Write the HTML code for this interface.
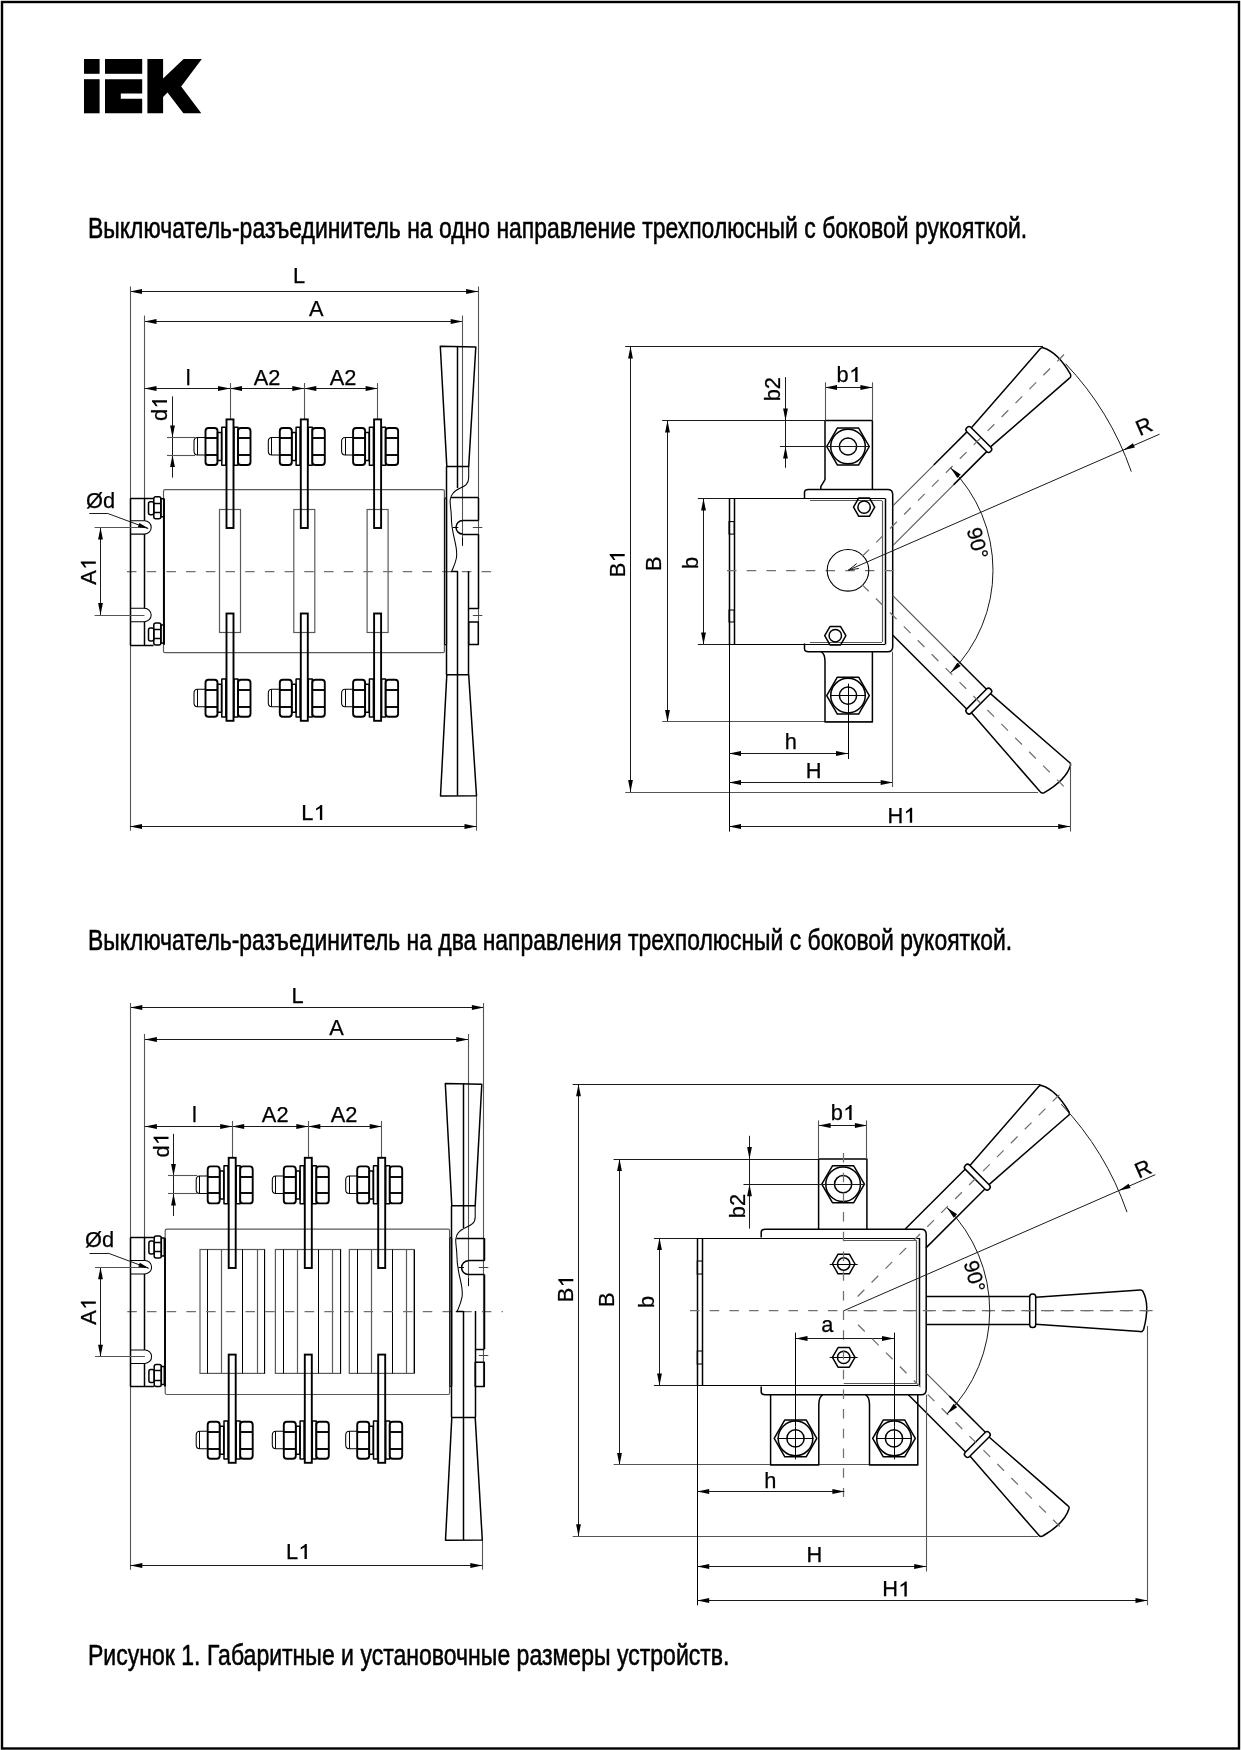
<!DOCTYPE html>
<html><head><meta charset="utf-8"><title>IEK</title>
<style>
html,body{margin:0;padding:0;background:#fff;}
svg{display:block;filter:grayscale(100%);}
.t{font-family:"Liberation Sans",sans-serif;fill:#000;stroke:#000;stroke-width:0.25;}
.tt{font-family:"Liberation Sans",sans-serif;fill:#000;stroke:#000;stroke-width:0.55;}
.d{stroke:#1a1a1a;stroke-width:1;fill:none;}
.e{stroke:#555;stroke-width:1.1;fill:none;}
.cl{stroke:#707070;stroke-width:1.25;stroke-dasharray:9.5 10.2;fill:none;}
.p,.pm{stroke:#000;stroke-width:1.5;fill:none;stroke-linejoin:round;}
.pb{stroke:#000;stroke-width:1.9;fill:none;}
.pt{stroke:#000;stroke-width:1.05;fill:none;}
.ptg{stroke:#444;stroke-width:1.05;fill:none;}
.bo{stroke:#5a5a5a;stroke-width:1.2;fill:none;}
.ar{fill:#000;stroke:none;}
</style></head>
<body><svg width="1241" height="1750" viewBox="0 0 1241 1750">
<rect width="1241" height="1750" fill="#fff"/>
<rect x="2" y="2" width="1237" height="1746.5" fill="none" stroke="#000" stroke-width="2.4"/>
<g fill="#000"><rect x="84" y="59" width="15.6" height="14.8"/><rect x="84" y="79.2" width="15.6" height="34.1"/><rect x="105" y="59" width="37.2" height="14.8"/><path d="M105,79.2 H142.2 V93.4 H120.8 V98.8 H142.2 V113.3 H105 Z"/><path d="M147.4,59 H163.1 V78.5 L183.6,59 H201.8 L181.2,86.5 L201.3,113.3 H183.4 L167.5,92.5 L163.1,97 V113.3 H147.4 Z"/></g>
<text class="tt" x="88" y="238.3" font-size="29.3" textLength="939.2" lengthAdjust="spacingAndGlyphs">Выключатель-разъединитель на одно направление трехполюсный с боковой рукояткой.</text>
<text class="tt" x="88" y="949.8" font-size="29.3" textLength="924.2" lengthAdjust="spacingAndGlyphs">Выключатель-разъединитель на два направления трехполюсный с боковой рукояткой.</text>
<text class="tt" x="88" y="1665.2" font-size="29.3" textLength="641.5" lengthAdjust="spacingAndGlyphs">Рисунок 1. Габаритные и установочные размеры устройств.</text>
<line class="d" x1="130" y1="291.5" x2="478.1" y2="291.5"/>
<path class="ar" d="M130,291.5L142,289.1L142,293.9Z"/>
<path class="ar" d="M478.1,291.5L466.1,293.9L466.1,289.1Z"/>
<text class="t" x="299" y="282.6" font-size="21.8" text-anchor="middle">L</text>
<line class="e" x1="130.5" y1="286.4" x2="130.5" y2="830.7"/>
<line class="e" x1="478.5" y1="286.4" x2="478.5" y2="645"/>
<line class="e" x1="476.5" y1="795.7" x2="476.5" y2="830.7"/>
<line class="d" x1="130" y1="826.5" x2="476.5" y2="826.5"/>
<path class="ar" d="M130,826.5L142,824.1L142,828.9Z"/>
<path class="ar" d="M476.5,826.5L464.5,828.9L464.5,824.1Z"/>
<g transform="translate(313.4 819.9)"><text class="t" x="-12.12" y="0" font-size="21.8" text-anchor="start">L</text><path d="M6.5,0 L8.85,0 L8.85,-15 L7.2,-15 L6.1,-13.6 L2.7,-11.3 L2.7,-9.3 L6.5,-11.6Z" fill="#000"/></g>
<line class="d" x1="144.5" y1="321.5" x2="462.7" y2="321.5"/>
<path class="ar" d="M144.5,321.5L156.5,319.1L156.5,323.9Z"/>
<path class="ar" d="M462.7,321.5L450.7,323.9L450.7,319.1Z"/>
<text class="t" x="316.2" y="316" font-size="21.8" text-anchor="middle">A</text>
<line class="e" x1="144.5" y1="315.5" x2="144.5" y2="498.3"/>
<line class="e" x1="462.5" y1="315.5" x2="462.5" y2="540"/>
<line class="d" x1="144.5" y1="388.5" x2="377.6" y2="388.5"/>
<path class="ar" d="M144.5,388.5L156.5,386.1L156.5,390.9Z"/>
<path class="ar" d="M230,388.5L218,390.9L218,386.1Z"/>
<path class="ar" d="M230,388.5L242,386.1L242,390.9Z"/>
<path class="ar" d="M304.3,388.5L292.3,390.9L292.3,386.1Z"/>
<path class="ar" d="M304.3,388.5L316.3,386.1L316.3,390.9Z"/>
<path class="ar" d="M377.6,388.5L365.6,390.9L365.6,386.1Z"/>
<line class="e" x1="230.5" y1="383" x2="230.5" y2="419.4"/>
<line class="e" x1="304.5" y1="383" x2="304.5" y2="419.4"/>
<line class="e" x1="377.5" y1="383" x2="377.5" y2="419.4"/>
<text class="t" x="188.2" y="384.5" font-size="21.8" text-anchor="middle">l</text>
<text class="t" x="267" y="384.5" font-size="21.8" text-anchor="middle">A2</text>
<text class="t" x="343" y="384.5" font-size="21.8" text-anchor="middle">A2</text>
<line class="d" x1="172.5" y1="396.4" x2="172.5" y2="477.6"/>
<path class="ar" d="M172.5,437.5L170.1,425.5L174.9,425.5Z"/>
<path class="ar" d="M172.5,455L174.9,467L170.1,467Z"/>
<line class="e" x1="167" y1="437.5" x2="195" y2="437.5"/>
<line class="e" x1="167" y1="455.5" x2="195" y2="455.5"/>
<g transform="translate(167 409) rotate(-90)"><text class="t" x="-12.12" y="0" font-size="21.8" text-anchor="start">d</text><path d="M6.5,0 L8.85,0 L8.85,-15 L7.2,-15 L6.1,-13.6 L2.7,-11.3 L2.7,-9.3 L6.5,-11.6Z" fill="#000"/></g>
<rect class="pb" x="205.5" y="428" width="12" height="37" rx="3"/>
<line class="pb" x1="205.5" y1="438" x2="217.5" y2="438"/>
<line class="pb" x1="205.5" y1="455" x2="217.5" y2="455"/>
<path class="pt" d="M205.5,437.5 H197.5 Q194,437.5 194,441.5 V451 Q194,455 197.5,455 H205.5"/>
<line class="pt" x1="197.5" y1="437.5" x2="197.5" y2="455"/>
<rect class="pm" x="217.5" y="432.5" width="4" height="28"/>
<rect class="pm" x="221.8" y="427.3" width="4" height="38"/>
<rect class="pm" x="234" y="427.3" width="4" height="38"/>
<rect class="pb" x="238" y="428" width="12.5" height="37" rx="3"/>
<line class="pb" x1="238" y1="438" x2="250.5" y2="438"/>
<line class="pb" x1="238" y1="455" x2="250.5" y2="455"/>
<rect class="pb" x="205.5" y="679.8" width="12" height="37" rx="3"/>
<line class="pb" x1="205.5" y1="690" x2="217.5" y2="690"/>
<line class="pb" x1="205.5" y1="707" x2="217.5" y2="707"/>
<path class="pt" d="M205.5,689.3 H197.5 Q194,689.3 194,693.3 V702.8 Q194,706.8 197.5,706.8 H205.5"/>
<line class="pt" x1="197.5" y1="689.3" x2="197.5" y2="706.8"/>
<rect class="pm" x="217.5" y="684.3" width="4" height="28"/>
<rect class="pm" x="221.8" y="679.1" width="4" height="38"/>
<rect class="pm" x="234" y="679.1" width="4" height="38"/>
<rect class="pb" x="238" y="679.8" width="12.5" height="37" rx="3"/>
<line class="pb" x1="238" y1="690" x2="250.5" y2="690"/>
<line class="pb" x1="238" y1="707" x2="250.5" y2="707"/>
<rect class="pb" x="279.8" y="428" width="12" height="37" rx="3"/>
<line class="pb" x1="279.8" y1="438" x2="291.8" y2="438"/>
<line class="pb" x1="279.8" y1="455" x2="291.8" y2="455"/>
<path class="pt" d="M279.8,437.5 H271.8 Q268.3,437.5 268.3,441.5 V451 Q268.3,455 271.8,455 H279.8"/>
<line class="pt" x1="271.5" y1="437.5" x2="271.5" y2="455"/>
<rect class="pm" x="291.8" y="432.5" width="4" height="28"/>
<rect class="pm" x="296.1" y="427.3" width="4" height="38"/>
<rect class="pm" x="308.3" y="427.3" width="4" height="38"/>
<rect class="pb" x="312.3" y="428" width="12.5" height="37" rx="3"/>
<line class="pb" x1="312.3" y1="438" x2="324.8" y2="438"/>
<line class="pb" x1="312.3" y1="455" x2="324.8" y2="455"/>
<rect class="pb" x="279.8" y="679.8" width="12" height="37" rx="3"/>
<line class="pb" x1="279.8" y1="690" x2="291.8" y2="690"/>
<line class="pb" x1="279.8" y1="707" x2="291.8" y2="707"/>
<path class="pt" d="M279.8,689.3 H271.8 Q268.3,689.3 268.3,693.3 V702.8 Q268.3,706.8 271.8,706.8 H279.8"/>
<line class="pt" x1="271.5" y1="689.3" x2="271.5" y2="706.8"/>
<rect class="pm" x="291.8" y="684.3" width="4" height="28"/>
<rect class="pm" x="296.1" y="679.1" width="4" height="38"/>
<rect class="pm" x="308.3" y="679.1" width="4" height="38"/>
<rect class="pb" x="312.3" y="679.8" width="12.5" height="37" rx="3"/>
<line class="pb" x1="312.3" y1="690" x2="324.8" y2="690"/>
<line class="pb" x1="312.3" y1="707" x2="324.8" y2="707"/>
<rect class="pb" x="353.1" y="428" width="12" height="37" rx="3"/>
<line class="pb" x1="353.1" y1="438" x2="365.1" y2="438"/>
<line class="pb" x1="353.1" y1="455" x2="365.1" y2="455"/>
<path class="pt" d="M353.1,437.5 H345.1 Q341.6,437.5 341.6,441.5 V451 Q341.6,455 345.1,455 H353.1"/>
<line class="pt" x1="345.5" y1="437.5" x2="345.5" y2="455"/>
<rect class="pm" x="365.1" y="432.5" width="4" height="28"/>
<rect class="pm" x="369.4" y="427.3" width="4" height="38"/>
<rect class="pm" x="381.6" y="427.3" width="4" height="38"/>
<rect class="pb" x="385.6" y="428" width="12.5" height="37" rx="3"/>
<line class="pb" x1="385.6" y1="438" x2="398.1" y2="438"/>
<line class="pb" x1="385.6" y1="455" x2="398.1" y2="455"/>
<rect class="pb" x="353.1" y="679.8" width="12" height="37" rx="3"/>
<line class="pb" x1="353.1" y1="690" x2="365.1" y2="690"/>
<line class="pb" x1="353.1" y1="707" x2="365.1" y2="707"/>
<path class="pt" d="M353.1,689.3 H345.1 Q341.6,689.3 341.6,693.3 V702.8 Q341.6,706.8 345.1,706.8 H353.1"/>
<line class="pt" x1="345.5" y1="689.3" x2="345.5" y2="706.8"/>
<rect class="pm" x="365.1" y="684.3" width="4" height="28"/>
<rect class="pm" x="369.4" y="679.1" width="4" height="38"/>
<rect class="pm" x="381.6" y="679.1" width="4" height="38"/>
<rect class="pb" x="385.6" y="679.8" width="12.5" height="37" rx="3"/>
<line class="pb" x1="385.6" y1="690" x2="398.1" y2="690"/>
<line class="pb" x1="385.6" y1="707" x2="398.1" y2="707"/>
<rect class="bo" x="163.5" y="489.7" width="280.9" height="163" rx="1.5"/>
<line class="pb" x1="164" y1="498.7" x2="164" y2="644.7"/>
<rect class="bo" x="219.5" y="509.5" width="21" height="123"/>
<rect class="bo" x="293.8" y="509.5" width="21" height="123"/>
<rect class="bo" x="367.1" y="509.5" width="21" height="123"/>
<rect class="pb" x="226.5" y="419.4" width="7" height="108.6"/>
<rect class="pb" x="226.5" y="613.5" width="7" height="107.3"/>
<rect class="pb" x="300.8" y="419.4" width="7" height="108.6"/>
<rect class="pb" x="300.8" y="613.5" width="7" height="107.3"/>
<rect class="pb" x="374.1" y="419.4" width="7" height="108.6"/>
<rect class="pb" x="374.1" y="613.5" width="7" height="107.3"/>
<line class="cl" x1="127" y1="571.5" x2="497.1" y2="571.5"/>
<line class="pm" x1="130" y1="498.5" x2="153.5" y2="498.5"/>
<line class="pm" x1="130" y1="645.5" x2="153.5" y2="645.5"/>
<line class="pm" x1="130.5" y1="498.3" x2="130.5" y2="645"/>
<line class="pm" x1="144.5" y1="498.3" x2="144.5" y2="520.7"/>
<line class="pm" x1="144.5" y1="534.1" x2="144.5" y2="608.3"/>
<line class="pm" x1="144.5" y1="621.7" x2="144.5" y2="645"/>
<path class="pt" d="M130,520.7 H144.5 A6.7,6.7 0 0 1 144.5,534.1 H130"/>
<path class="pt" d="M130,608.3 H144.5 A6.7,6.7 0 0 1 144.5,621.7 H130"/>
<rect class="pm" x="148.5" y="501.8" width="5.3" height="13" rx="2"/>
<rect class="pm" x="153.8" y="496.8" width="7.1" height="22" rx="2"/>
<line class="pm" x1="153.8" y1="503.5" x2="160.9" y2="503.5"/>
<line class="pm" x1="153.8" y1="512.5" x2="160.9" y2="512.5"/>
<rect class="pm" x="160.9" y="498.8" width="3" height="18"/>
<rect class="pm" x="148.5" y="628" width="5.3" height="13" rx="2"/>
<rect class="pm" x="153.8" y="623" width="7.1" height="22" rx="2"/>
<line class="pm" x1="153.8" y1="629.5" x2="160.9" y2="629.5"/>
<line class="pm" x1="153.8" y1="638.5" x2="160.9" y2="638.5"/>
<rect class="pm" x="160.9" y="625" width="3" height="18"/>
<line class="d" x1="100.5" y1="527.4" x2="100.5" y2="615"/>
<path class="ar" d="M100.5,527.4L102.9,539.4L98.1,539.4Z"/>
<path class="ar" d="M100.5,615L98.1,603L102.9,603Z"/>
<line class="e" x1="94.6" y1="527.5" x2="144.5" y2="527.5"/>
<line class="e" x1="94.6" y1="615.5" x2="144.5" y2="615.5"/>
<g transform="translate(95.8 571.5) rotate(-90)"><text class="t" x="-13.33" y="0" font-size="21.8" text-anchor="start">A</text><path d="M7.71,0 L10.06,0 L10.06,-15 L8.41,-15 L7.31,-13.6 L3.91,-11.3 L3.91,-9.3 L7.71,-11.6Z" fill="#000"/></g>
<text class="t" x="86" y="507.9" font-size="21.8" text-anchor="start">Ød</text>
<line class="d" x1="89.3" y1="513.5" x2="107.8" y2="513.5"/>
<line class="d" x1="107.8" y1="513.5" x2="148" y2="528.4"/>
<path class="ar" d="M149,528.7L137.91,527.04L139.4,522.9Z"/>
<path class="pm" d="M440.3,346.2 L475.8,347 L468.7,466.5 L446.8,466.5 Z"/>
<line class="pm" x1="457.5" y1="346.2" x2="457.5" y2="488"/>
<line class="pm" x1="446.5" y1="466.5" x2="446.5" y2="674.8"/>
<path class="pt" d="M468.7,466.5 V477.5 C468.7,488.5 457.8,486.5 452.8,493.5 C447.8,499.5 451.3,506.5 451.3,516.5 C451.3,536.5 458.8,546.5 456.3,558.5 C454.8,565.5 452.8,568.2 451.8,571.2"/>
<line class="pm" x1="450.8" y1="497.5" x2="478.3" y2="497.5"/>
<line class="pm" x1="478.5" y1="497.8" x2="478.5" y2="520.5"/>
<line class="pm" x1="478.3" y1="520.5" x2="462.8" y2="520.5"/>
<path class="pm" d="M462.8,520.5 A6.7,6.7 0 0 0 462.8,534.1"/>
<line class="pm" x1="462.8" y1="534.5" x2="478.3" y2="534.5"/>
<line class="pm" x1="478.5" y1="534.1" x2="478.5" y2="608.9"/>
<line class="pm" x1="478.3" y1="608.5" x2="468.7" y2="608.5"/>
<line class="pt" x1="452.8" y1="527.5" x2="458.3" y2="527.5"/>
<line class="ptg" x1="472.8" y1="527.5" x2="482.3" y2="527.5"/>
<line class="ptg" x1="472.8" y1="615.5" x2="482.3" y2="615.5"/>
<rect class="pm" x="468.7" y="621.9" width="9.6" height="22.7"/>
<line class="pt" x1="462.5" y1="537.8" x2="462.5" y2="545.8"/>
<line class="pm" x1="457.5" y1="571.2" x2="457.5" y2="674.8"/>
<line class="pm" x1="468.5" y1="571.2" x2="468.5" y2="674.8"/>
<line class="pm" x1="450.8" y1="571.5" x2="457.8" y2="571.5"/>
<rect class="pt" x="444.7" y="498" width="1.9" height="146.7" rx="1"/>
<path class="pm" d="M446.8,674.8 L468.7,674.8 L476.5,795.7 L440.5,796 Z"/>
<line class="pm" x1="457.5" y1="674.8" x2="457.5" y2="795.7"/>
<line class="d" x1="130.3" y1="1007.5" x2="483.9" y2="1007.5"/>
<path class="ar" d="M130.3,1007.5L142.3,1005.1L142.3,1009.9Z"/>
<path class="ar" d="M483.9,1007.5L471.9,1009.9L471.9,1005.1Z"/>
<text class="t" x="297.5" y="1003.4" font-size="21.8" text-anchor="middle">L</text>
<line class="e" x1="130.5" y1="1002.9" x2="130.5" y2="1569.7"/>
<line class="e" x1="483.5" y1="1002.9" x2="483.5" y2="1386.4"/>
<line class="e" x1="482.5" y1="1540" x2="482.5" y2="1569.7"/>
<line class="d" x1="130.3" y1="1565.5" x2="482.3" y2="1565.5"/>
<path class="ar" d="M130.3,1565.5L142.3,1563.1L142.3,1567.9Z"/>
<path class="ar" d="M482.3,1565.5L470.3,1567.9L470.3,1563.1Z"/>
<g transform="translate(298 1558.9)"><text class="t" x="-12.12" y="0" font-size="21.8" text-anchor="start">L</text><path d="M6.5,0 L8.85,0 L8.85,-15 L7.2,-15 L6.1,-13.6 L2.7,-11.3 L2.7,-9.3 L6.5,-11.6Z" fill="#000"/></g>
<line class="d" x1="144.9" y1="1039.5" x2="468.3" y2="1039.5"/>
<path class="ar" d="M144.9,1039.5L156.9,1037.1L156.9,1041.9Z"/>
<path class="ar" d="M468.3,1039.5L456.3,1041.9L456.3,1037.1Z"/>
<text class="t" x="336.6" y="1034.5" font-size="21.8" text-anchor="middle">A</text>
<line class="e" x1="144.5" y1="1034" x2="144.5" y2="1237.6"/>
<line class="e" x1="468.5" y1="1034" x2="468.5" y2="1280"/>
<line class="d" x1="144.9" y1="1126.5" x2="381.7" y2="1126.5"/>
<path class="ar" d="M144.9,1126.5L156.9,1124.1L156.9,1128.9Z"/>
<path class="ar" d="M232.2,1126.5L220.2,1128.9L220.2,1124.1Z"/>
<path class="ar" d="M232.2,1126.5L244.2,1124.1L244.2,1128.9Z"/>
<path class="ar" d="M308.3,1126.5L296.3,1128.9L296.3,1124.1Z"/>
<path class="ar" d="M308.3,1126.5L320.3,1124.1L320.3,1128.9Z"/>
<path class="ar" d="M381.7,1126.5L369.7,1128.9L369.7,1124.1Z"/>
<line class="e" x1="232.5" y1="1120.9" x2="232.5" y2="1157.8"/>
<line class="e" x1="308.5" y1="1120.9" x2="308.5" y2="1157.8"/>
<line class="e" x1="381.5" y1="1120.9" x2="381.5" y2="1157.8"/>
<text class="t" x="194.5" y="1122.4" font-size="21.8" text-anchor="middle">l</text>
<text class="t" x="275.2" y="1122.4" font-size="21.8" text-anchor="middle">A2</text>
<text class="t" x="344" y="1122.4" font-size="21.8" text-anchor="middle">A2</text>
<line class="d" x1="173.5" y1="1133.8" x2="173.5" y2="1216"/>
<path class="ar" d="M173.5,1175.9L171.1,1163.9L175.9,1163.9Z"/>
<path class="ar" d="M173.5,1193.4L175.9,1205.4L171.1,1205.4Z"/>
<line class="e" x1="168" y1="1175.5" x2="197.2" y2="1175.5"/>
<line class="e" x1="168" y1="1193.5" x2="197.2" y2="1193.5"/>
<g transform="translate(168.5 1145.5) rotate(-90)"><text class="t" x="-12.12" y="0" font-size="21.8" text-anchor="start">d</text><path d="M6.5,0 L8.85,0 L8.85,-15 L7.2,-15 L6.1,-13.6 L2.7,-11.3 L2.7,-9.3 L6.5,-11.6Z" fill="#000"/></g>
<rect class="pb" x="207.7" y="1166.4" width="12" height="37" rx="3"/>
<line class="pb" x1="207.7" y1="1177" x2="219.7" y2="1177"/>
<line class="pb" x1="207.7" y1="1193" x2="219.7" y2="1193"/>
<path class="pt" d="M207.7,1175.9 H199.7 Q196.2,1175.9 196.2,1179.9 V1189.4 Q196.2,1193.4 199.7,1193.4 H207.7"/>
<line class="pt" x1="199.5" y1="1175.9" x2="199.5" y2="1193.4"/>
<rect class="pm" x="219.7" y="1170.9" width="4" height="28"/>
<rect class="pm" x="224" y="1165.7" width="4" height="38"/>
<rect class="pm" x="236.2" y="1165.7" width="4" height="38"/>
<rect class="pb" x="240.2" y="1166.4" width="12.5" height="37" rx="3"/>
<line class="pb" x1="240.2" y1="1177" x2="252.7" y2="1177"/>
<line class="pb" x1="240.2" y1="1193" x2="252.7" y2="1193"/>
<rect class="pb" x="207.7" y="1421.8" width="12" height="37" rx="3"/>
<line class="pb" x1="207.7" y1="1432" x2="219.7" y2="1432"/>
<line class="pb" x1="207.7" y1="1449" x2="219.7" y2="1449"/>
<path class="pt" d="M207.7,1431.3 H199.7 Q196.2,1431.3 196.2,1435.3 V1444.8 Q196.2,1448.8 199.7,1448.8 H207.7"/>
<line class="pt" x1="199.5" y1="1431.3" x2="199.5" y2="1448.8"/>
<rect class="pm" x="219.7" y="1426.3" width="4" height="28"/>
<rect class="pm" x="224" y="1421.1" width="4" height="38"/>
<rect class="pm" x="236.2" y="1421.1" width="4" height="38"/>
<rect class="pb" x="240.2" y="1421.8" width="12.5" height="37" rx="3"/>
<line class="pb" x1="240.2" y1="1432" x2="252.7" y2="1432"/>
<line class="pb" x1="240.2" y1="1449" x2="252.7" y2="1449"/>
<rect class="pb" x="283.8" y="1166.4" width="12" height="37" rx="3"/>
<line class="pb" x1="283.8" y1="1177" x2="295.8" y2="1177"/>
<line class="pb" x1="283.8" y1="1193" x2="295.8" y2="1193"/>
<path class="pt" d="M283.8,1175.9 H275.8 Q272.3,1175.9 272.3,1179.9 V1189.4 Q272.3,1193.4 275.8,1193.4 H283.8"/>
<line class="pt" x1="275.5" y1="1175.9" x2="275.5" y2="1193.4"/>
<rect class="pm" x="295.8" y="1170.9" width="4" height="28"/>
<rect class="pm" x="300.1" y="1165.7" width="4" height="38"/>
<rect class="pm" x="312.3" y="1165.7" width="4" height="38"/>
<rect class="pb" x="316.3" y="1166.4" width="12.5" height="37" rx="3"/>
<line class="pb" x1="316.3" y1="1177" x2="328.8" y2="1177"/>
<line class="pb" x1="316.3" y1="1193" x2="328.8" y2="1193"/>
<rect class="pb" x="283.8" y="1421.8" width="12" height="37" rx="3"/>
<line class="pb" x1="283.8" y1="1432" x2="295.8" y2="1432"/>
<line class="pb" x1="283.8" y1="1449" x2="295.8" y2="1449"/>
<path class="pt" d="M283.8,1431.3 H275.8 Q272.3,1431.3 272.3,1435.3 V1444.8 Q272.3,1448.8 275.8,1448.8 H283.8"/>
<line class="pt" x1="275.5" y1="1431.3" x2="275.5" y2="1448.8"/>
<rect class="pm" x="295.8" y="1426.3" width="4" height="28"/>
<rect class="pm" x="300.1" y="1421.1" width="4" height="38"/>
<rect class="pm" x="312.3" y="1421.1" width="4" height="38"/>
<rect class="pb" x="316.3" y="1421.8" width="12.5" height="37" rx="3"/>
<line class="pb" x1="316.3" y1="1432" x2="328.8" y2="1432"/>
<line class="pb" x1="316.3" y1="1449" x2="328.8" y2="1449"/>
<rect class="pb" x="357.2" y="1166.4" width="12" height="37" rx="3"/>
<line class="pb" x1="357.2" y1="1177" x2="369.2" y2="1177"/>
<line class="pb" x1="357.2" y1="1193" x2="369.2" y2="1193"/>
<path class="pt" d="M357.2,1175.9 H349.2 Q345.7,1175.9 345.7,1179.9 V1189.4 Q345.7,1193.4 349.2,1193.4 H357.2"/>
<line class="pt" x1="349.5" y1="1175.9" x2="349.5" y2="1193.4"/>
<rect class="pm" x="369.2" y="1170.9" width="4" height="28"/>
<rect class="pm" x="373.5" y="1165.7" width="4" height="38"/>
<rect class="pm" x="385.7" y="1165.7" width="4" height="38"/>
<rect class="pb" x="389.7" y="1166.4" width="12.5" height="37" rx="3"/>
<line class="pb" x1="389.7" y1="1177" x2="402.2" y2="1177"/>
<line class="pb" x1="389.7" y1="1193" x2="402.2" y2="1193"/>
<rect class="pb" x="357.2" y="1421.8" width="12" height="37" rx="3"/>
<line class="pb" x1="357.2" y1="1432" x2="369.2" y2="1432"/>
<line class="pb" x1="357.2" y1="1449" x2="369.2" y2="1449"/>
<path class="pt" d="M357.2,1431.3 H349.2 Q345.7,1431.3 345.7,1435.3 V1444.8 Q345.7,1448.8 349.2,1448.8 H357.2"/>
<line class="pt" x1="349.5" y1="1431.3" x2="349.5" y2="1448.8"/>
<rect class="pm" x="369.2" y="1426.3" width="4" height="28"/>
<rect class="pm" x="373.5" y="1421.1" width="4" height="38"/>
<rect class="pm" x="385.7" y="1421.1" width="4" height="38"/>
<rect class="pb" x="389.7" y="1421.8" width="12.5" height="37" rx="3"/>
<line class="pb" x1="389.7" y1="1432" x2="402.2" y2="1432"/>
<line class="pb" x1="389.7" y1="1449" x2="402.2" y2="1449"/>
<rect class="bo" x="165.2" y="1229.2" width="284.4" height="165.3" rx="1.5"/>
<line class="pb" x1="165" y1="1238.2" x2="165" y2="1386.5"/>
<rect class="bo" x="200" y="1249.5" width="64.6" height="123.9"/>
<line class="pt" x1="207.5" y1="1249.5" x2="207.5" y2="1373.4"/>
<line class="bo" x1="221.5" y1="1249.5" x2="221.5" y2="1373.4"/>
<line class="pt" x1="242.5" y1="1249.5" x2="242.5" y2="1373.4"/>
<line class="bo" x1="257.5" y1="1249.5" x2="257.5" y2="1373.4"/>
<line class="pt" x1="264.5" y1="1249.5" x2="264.5" y2="1373.4"/>
<rect class="bo" x="275.4" y="1249.5" width="65.2" height="123.9"/>
<line class="pt" x1="283.5" y1="1249.5" x2="283.5" y2="1373.4"/>
<line class="bo" x1="297.5" y1="1249.5" x2="297.5" y2="1373.4"/>
<line class="pt" x1="318.5" y1="1249.5" x2="318.5" y2="1373.4"/>
<line class="bo" x1="332.5" y1="1249.5" x2="332.5" y2="1373.4"/>
<line class="pt" x1="340.5" y1="1249.5" x2="340.5" y2="1373.4"/>
<rect class="bo" x="349.3" y="1249.5" width="64.7" height="123.9"/>
<line class="pt" x1="357.5" y1="1249.5" x2="357.5" y2="1373.4"/>
<line class="bo" x1="371.5" y1="1249.5" x2="371.5" y2="1373.4"/>
<line class="pt" x1="392.5" y1="1249.5" x2="392.5" y2="1373.4"/>
<line class="bo" x1="406.5" y1="1249.5" x2="406.5" y2="1373.4"/>
<line class="pt" x1="414.5" y1="1249.5" x2="414.5" y2="1373.4"/>
<rect class="pb" x="228.7" y="1157.8" width="7" height="110.2"/>
<rect class="pb" x="228.7" y="1354.6" width="7" height="108.2"/>
<rect class="pb" x="304.8" y="1157.8" width="7" height="110.2"/>
<rect class="pb" x="304.8" y="1354.6" width="7" height="108.2"/>
<rect class="pb" x="378.2" y="1157.8" width="7" height="110.2"/>
<rect class="pb" x="378.2" y="1354.6" width="7" height="108.2"/>
<line class="cl" x1="127.3" y1="1311.5" x2="502.9" y2="1311.5"/>
<line class="pm" x1="130.3" y1="1237.5" x2="153.9" y2="1237.5"/>
<line class="pm" x1="130.3" y1="1386.5" x2="153.9" y2="1386.5"/>
<line class="pm" x1="130.5" y1="1237.6" x2="130.5" y2="1386.4"/>
<line class="pm" x1="144.5" y1="1237.6" x2="144.5" y2="1260.5"/>
<line class="pm" x1="144.5" y1="1273.9" x2="144.5" y2="1350"/>
<line class="pm" x1="144.5" y1="1363.4" x2="144.5" y2="1386.4"/>
<path class="pt" d="M130.3,1260.5 H144.9 A6.7,6.7 0 0 1 144.9,1273.9 H130.3"/>
<path class="pt" d="M130.3,1350 H144.9 A6.7,6.7 0 0 1 144.9,1363.4 H130.3"/>
<rect class="pm" x="148.9" y="1241.1" width="5.3" height="13" rx="2"/>
<rect class="pm" x="154.2" y="1236.1" width="7.1" height="22" rx="2"/>
<line class="pm" x1="154.2" y1="1242.5" x2="161.3" y2="1242.5"/>
<line class="pm" x1="154.2" y1="1251.5" x2="161.3" y2="1251.5"/>
<rect class="pm" x="161.3" y="1238.1" width="3" height="18"/>
<rect class="pm" x="148.9" y="1369.4" width="5.3" height="13" rx="2"/>
<rect class="pm" x="154.2" y="1364.4" width="7.1" height="22" rx="2"/>
<line class="pm" x1="154.2" y1="1370.5" x2="161.3" y2="1370.5"/>
<line class="pm" x1="154.2" y1="1380.5" x2="161.3" y2="1380.5"/>
<rect class="pm" x="161.3" y="1366.4" width="3" height="18"/>
<line class="d" x1="100.5" y1="1267.2" x2="100.5" y2="1356.7"/>
<path class="ar" d="M100.5,1267.2L102.9,1279.2L98.1,1279.2Z"/>
<path class="ar" d="M100.5,1356.7L98.1,1344.7L102.9,1344.7Z"/>
<line class="e" x1="95" y1="1267.5" x2="144.9" y2="1267.5"/>
<line class="e" x1="95" y1="1356.5" x2="144.9" y2="1356.5"/>
<g transform="translate(95.8 1311.5) rotate(-90)"><text class="t" x="-13.33" y="0" font-size="21.8" text-anchor="start">A</text><path d="M7.71,0 L10.06,0 L10.06,-15 L8.41,-15 L7.31,-13.6 L3.91,-11.3 L3.91,-9.3 L7.71,-11.6Z" fill="#000"/></g>
<text class="t" x="85" y="1247.2" font-size="21.8" text-anchor="start">Ød</text>
<line class="d" x1="89.5" y1="1253.5" x2="108" y2="1253.5"/>
<line class="d" x1="108" y1="1253.1" x2="148.4" y2="1268.2"/>
<path class="ar" d="M149.4,1268.5L138.31,1266.84L139.8,1262.7Z"/>
<path class="pm" d="M445.3,1083.5 L481.8,1084.3 L475.2,1205.7 L451.8,1205.7 Z"/>
<line class="pm" x1="463.5" y1="1083.5" x2="463.5" y2="1228"/>
<line class="pm" x1="451.5" y1="1205.7" x2="451.5" y2="1417.4"/>
<path class="pt" d="M475.2,1205.7 V1216.7 C475.2,1227.7 463.4,1225.7 458.4,1232.7 C453.4,1238.7 456.9,1245.7 456.9,1255.7 C456.9,1275.7 464.4,1285.7 461.9,1297.7 C460.4,1304.7 458.4,1308 457.4,1311"/>
<line class="pm" x1="456.4" y1="1238.5" x2="484.3" y2="1238.5"/>
<line class="pm" x1="484.5" y1="1238.1" x2="484.5" y2="1260.8"/>
<line class="pm" x1="484.3" y1="1260.5" x2="468.4" y2="1260.5"/>
<path class="pm" d="M468.4,1260.8 A6.7,6.7 0 0 0 468.4,1274.4"/>
<line class="pm" x1="468.4" y1="1274.5" x2="484.3" y2="1274.5"/>
<line class="pm" x1="484.5" y1="1274.4" x2="484.5" y2="1349.2"/>
<line class="pm" x1="484.3" y1="1349.5" x2="475.2" y2="1349.5"/>
<line class="pt" x1="458.4" y1="1267.5" x2="463.9" y2="1267.5"/>
<line class="ptg" x1="478.8" y1="1267.5" x2="488.3" y2="1267.5"/>
<line class="ptg" x1="478.8" y1="1355.5" x2="488.3" y2="1355.5"/>
<rect class="pm" x="475.2" y="1362.2" width="9.1" height="24.2"/>
<line class="pt" x1="468.5" y1="1278.1" x2="468.5" y2="1286.1"/>
<line class="pm" x1="463.5" y1="1311" x2="463.5" y2="1417.4"/>
<line class="pm" x1="475.5" y1="1311" x2="475.5" y2="1417.4"/>
<line class="pm" x1="455.8" y1="1311.5" x2="463.4" y2="1311.5"/>
<rect class="pt" x="449.9" y="1237.5" width="1.9" height="149" rx="1"/>
<path class="pm" d="M451.8,1417.4 L475.2,1417.4 L482.3,1540 L445.5,1540.3 Z"/>
<line class="pm" x1="463.5" y1="1417.4" x2="463.5" y2="1540"/>
<line class="d" x1="630.5" y1="346.4" x2="630.5" y2="792"/>
<path class="ar" d="M630.5,346.4L632.9,358.4L628.1,358.4Z"/>
<path class="ar" d="M630.5,792L628.1,780L632.9,780Z"/>
<line class="d" x1="625.2" y1="346.5" x2="1043" y2="346.5"/>
<line class="e" x1="625.2" y1="792.5" x2="1038" y2="792.5"/>
<g transform="translate(624.7 564) rotate(-90)"><text class="t" x="-13.33" y="0" font-size="21.8" text-anchor="start">B</text><path d="M7.71,0 L10.06,0 L10.06,-15 L8.41,-15 L7.31,-13.6 L3.91,-11.3 L3.91,-9.3 L7.71,-11.6Z" fill="#000"/></g>
<line class="d" x1="667.5" y1="420.6" x2="667.5" y2="721.9"/>
<path class="ar" d="M667.5,420.6L669.9,432.6L665.1,432.6Z"/>
<path class="ar" d="M667.5,721.9L665.1,709.9L669.9,709.9Z"/>
<line class="d" x1="662.2" y1="420.5" x2="825" y2="420.5"/>
<line class="e" x1="662.2" y1="721.5" x2="872.4" y2="721.5"/>
<text class="t" x="661.2" y="563.6" font-size="21.8" text-anchor="middle" transform="rotate(-90 661.2 563.6)">B</text>
<line class="d" x1="703.5" y1="498.4" x2="703.5" y2="644.4"/>
<path class="ar" d="M703.5,498.4L705.9,510.4L701.1,510.4Z"/>
<path class="ar" d="M703.5,644.4L701.1,632.4L705.9,632.4Z"/>
<line class="d" x1="697.8" y1="498.5" x2="729" y2="498.5"/>
<line class="d" x1="697.8" y1="644.5" x2="729" y2="644.5"/>
<text class="t" x="697.6" y="563" font-size="21.8" text-anchor="middle" transform="rotate(-90 697.6 563)">b</text>
<path class="pm" d="M825,420.6 H872.4 V489.6 M825,420.6 V479.6 L820.8,486.6 V489.6"/>
<polygon class="pm" points="869.3,446.5 858.65,464.95 837.35,464.95 826.7,446.5 837.35,428.05 858.65,428.05"/>
<circle class="pm" cx="848" cy="446.5" r="17.3"/>
<circle class="pm" cx="848" cy="446.5" r="8.6"/>
<line class="d" x1="825" y1="387.5" x2="872.4" y2="387.5"/>
<path class="ar" d="M825,387.5L837,385.1L837,389.9Z"/>
<path class="ar" d="M872.4,387.5L860.4,389.9L860.4,385.1Z"/>
<line class="e" x1="825.5" y1="382.3" x2="825.5" y2="420.6"/>
<line class="e" x1="872.5" y1="382.3" x2="872.5" y2="420.6"/>
<g transform="translate(848.7 382)"><text class="t" x="-12.12" y="0" font-size="21.8" text-anchor="start">b</text><path d="M6.5,0 L8.85,0 L8.85,-15 L7.2,-15 L6.1,-13.6 L2.7,-11.3 L2.7,-9.3 L6.5,-11.6Z" fill="#000"/></g>
<line class="d" x1="785.5" y1="377.1" x2="785.5" y2="467.8"/>
<path class="ar" d="M785.5,420.6L783.1,408.6L787.9,408.6Z"/>
<path class="ar" d="M785.5,446.5L787.9,458.5L783.1,458.5Z"/>
<line class="d" x1="779.9" y1="446.5" x2="870" y2="446.5"/>
<text class="t" x="780" y="389.2" font-size="21.8" text-anchor="middle" transform="rotate(-90 780 389.2)">b2</text>
<path class="pm" d="M804.5,497.9 V492.6 Q804.5,489.6 808.5,489.6 H887.7 Q892.7,489.6 892.7,494.6 V646.7 Q892.7,651.7 887.7,651.7 H808.5 Q804.5,651.7 804.5,648.7 V643.4"/>
<line class="pt" x1="729" y1="498.5" x2="885" y2="498.5"/>
<line class="pt" x1="729" y1="644.5" x2="885" y2="644.5"/>
<line class="pm" x1="885.5" y1="498.4" x2="885.5" y2="644.4"/>
<line class="pm" x1="729.5" y1="498.4" x2="729.5" y2="644.4"/>
<line class="pm" x1="734.5" y1="498.4" x2="734.5" y2="644.4"/>
<line class="bo" x1="882.5" y1="500.9" x2="882.5" y2="641.9"/>
<line class="bo" x1="810" y1="500.5" x2="882" y2="500.5"/>
<line class="bo" x1="810" y1="642.5" x2="882" y2="642.5"/>
<rect class="pt" x="729" y="521.6" width="5.2" height="12.5"/>
<rect class="pt" x="729" y="610" width="5.2" height="12"/>
<line class="cl" x1="727" y1="570.5" x2="899" y2="570.5"/>
<circle class="pt" cx="848" cy="570.3" r="20.8"/>
<polygon class="pm" points="874.7,507.1 869.4,516.28 858.8,516.28 853.5,507.1 858.8,497.92 869.4,497.92"/>
<circle class="pm" cx="864.1" cy="507.1" r="6.2"/>
<polygon class="pm" points="845.9,635.7 840.6,644.88 830,644.88 824.7,635.7 830,626.52 840.6,626.52"/>
<circle class="pm" cx="835.3" cy="635.7" r="6.2"/>
<path class="pm" d="M821,651.7 Q825,653.7 825,661.7 V721.9 H872.4 V651.7"/>
<polygon class="pm" points="869.3,695.6 858.65,714.05 837.35,714.05 826.7,695.6 837.35,677.15 858.65,677.15"/>
<circle class="pm" cx="848" cy="695.6" r="17.3"/>
<circle class="pm" cx="848" cy="695.6" r="8.6"/>
<line class="pt" x1="830" y1="695.5" x2="866" y2="695.5"/>
<line class="pt" x1="848.5" y1="683.6" x2="848.5" y2="716.6"/>
<g transform="rotate(-45 848 570.3)">
<line class="e" x1="925.22" y1="556.5" x2="983" y2="556.5"/>
<line class="pm" x1="983" y1="556.5" x2="1030" y2="556.5"/>
<line class="e" x1="897.22" y1="584.5" x2="983" y2="584.5"/>
<line class="pm" x1="983" y1="584.5" x2="1030" y2="584.5"/>
<rect class="pm" x="1030" y="553.5" width="6" height="33.6" rx="2.8"/>
<path class="pm" d="M1036,556.8 L1140.5,549.6 Q1142,549.1 1143.2,550.8 Q1150.5,564 1144,588.8 Q1142.5,591.8 1140.5,591 L1036,583.8"/>
<line class="cl" x1="868" y1="570.5" x2="1156" y2="570.5"/>
</g>
<g transform="rotate(45 848 570.3)">
<line class="e" x1="897.22" y1="556.5" x2="983" y2="556.5"/>
<line class="pm" x1="983" y1="556.5" x2="1030" y2="556.5"/>
<line class="pm" x1="925.22" y1="584.5" x2="1030" y2="584.5"/>
<rect class="pm" x="1030" y="553.5" width="6" height="33.6" rx="2.8"/>
<path class="pm" d="M1036,556.8 L1140.5,549.6 Q1142,549.1 1143.2,550.8 Q1150.5,564 1144,588.8 Q1142.5,591.8 1140.5,591 L1036,583.8"/>
<line class="cl" x1="868" y1="570.5" x2="1156" y2="570.5"/>
</g>
<path class="d" d="M950.53,467.77 A145,145 0 0 1 950.53,672.83" fill="none"/>
<path class="ar" d="M950.53,467.77L960.71,474.56L957.32,477.95Z"/>
<path class="ar" d="M950.53,672.83L957.32,662.65L960.71,666.04Z"/>
<text class="t" x="970.5" y="545" font-size="21" text-anchor="middle" transform="rotate(75 970.5 545)">90°</text>
<path class="d" d="M1065.61,363.79 A300,300 0 0 1 1131.31,471.64" fill="none"/>
<line class="d" x1="848" y1="570.3" x2="1159.56" y2="434.18"/>
<path class="ar" d="M1122.91,450.2L1132.94,443.19L1134.87,447.59Z"/>
<line class="d" x1="848.46" y1="570.1" x2="858.85" y2="568.47"/>
<line class="d" x1="848.46" y1="570.1" x2="856.72" y2="563.59"/>
<text class="t" x="1147" y="433" font-size="21.8" text-anchor="middle" transform="rotate(-23.6 1147 433)">R</text>
<line class="pt" x1="729.5" y1="644.4" x2="729.5" y2="831.6"/>
<line class="d" x1="729" y1="753.5" x2="848" y2="753.5"/>
<path class="ar" d="M729,753.5L741,751.1L741,755.9Z"/>
<path class="ar" d="M848,753.5L836,755.9L836,751.1Z"/>
<line class="pt" x1="848.5" y1="707" x2="848.5" y2="759"/>
<text class="t" x="790.8" y="749" font-size="21.8" text-anchor="middle">h</text>
<line class="d" x1="729" y1="782.5" x2="892.7" y2="782.5"/>
<path class="ar" d="M729,782.5L741,780.1L741,784.9Z"/>
<path class="ar" d="M892.7,782.5L880.7,784.9L880.7,780.1Z"/>
<line class="e" x1="892.5" y1="651.7" x2="892.5" y2="787"/>
<text class="t" x="813.7" y="777.6" font-size="21.8" text-anchor="middle">H</text>
<line class="d" x1="729" y1="826.5" x2="1070.2" y2="826.5"/>
<path class="ar" d="M729,826.5L741,824.1L741,828.9Z"/>
<path class="ar" d="M1070.2,826.5L1058.2,828.9L1058.2,824.1Z"/>
<line class="e" x1="1070.5" y1="762" x2="1070.5" y2="831.6"/>
<g transform="translate(901.5 822.7)"><text class="t" x="-13.93" y="0" font-size="21.8" text-anchor="start">H</text><path d="M8.31,0 L10.66,0 L10.66,-15 L9.01,-15 L7.91,-13.6 L4.51,-11.3 L4.51,-9.3 L8.31,-11.6Z" fill="#000"/></g>
<line class="d" x1="578.5" y1="1084.2" x2="578.5" y2="1536.3"/>
<path class="ar" d="M578.5,1084.2L580.9,1096.2L576.1,1096.2Z"/>
<path class="ar" d="M578.5,1536.3L576.1,1524.3L580.9,1524.3Z"/>
<line class="d" x1="572.7" y1="1084.5" x2="1040.5" y2="1084.5"/>
<line class="e" x1="572.7" y1="1536.5" x2="1038" y2="1536.5"/>
<g transform="translate(573.3 1289) rotate(-90)"><text class="t" x="-13.33" y="0" font-size="21.8" text-anchor="start">B</text><path d="M7.71,0 L10.06,0 L10.06,-15 L8.41,-15 L7.31,-13.6 L3.91,-11.3 L3.91,-9.3 L7.71,-11.6Z" fill="#000"/></g>
<line class="d" x1="619.5" y1="1159" x2="619.5" y2="1464.9"/>
<path class="ar" d="M619.5,1159L621.9,1171L617.1,1171Z"/>
<path class="ar" d="M619.5,1464.9L617.1,1452.9L621.9,1452.9Z"/>
<line class="d" x1="613.6" y1="1159.5" x2="818.6" y2="1159.5"/>
<line class="e" x1="613.6" y1="1464.5" x2="918" y2="1464.5"/>
<text class="t" x="613.7" y="1299.8" font-size="21.8" text-anchor="middle" transform="rotate(-90 613.7 1299.8)">B</text>
<line class="d" x1="659.5" y1="1238" x2="659.5" y2="1385.6"/>
<path class="ar" d="M659.5,1238L661.9,1250L657.1,1250Z"/>
<path class="ar" d="M659.5,1385.6L657.1,1373.6L661.9,1373.6Z"/>
<line class="d" x1="653.9" y1="1238.5" x2="697.2" y2="1238.5"/>
<line class="d" x1="653.9" y1="1385.5" x2="697.2" y2="1385.5"/>
<text class="t" x="653.7" y="1302" font-size="21.8" text-anchor="middle" transform="rotate(-90 653.7 1302)">b</text>
<path class="pm" d="M818.6,1229.2 V1159 H866.9 V1229.2"/>
<polygon class="pm" points="864.4,1184.2 853.75,1202.65 832.45,1202.65 821.8,1184.2 832.45,1165.75 853.75,1165.75"/>
<circle class="pm" cx="843.1" cy="1184.2" r="17.3"/>
<circle class="pm" cx="843.1" cy="1184.2" r="8.6"/>
<line class="d" x1="818.6" y1="1125.5" x2="866.9" y2="1125.5"/>
<path class="ar" d="M818.6,1125.5L830.6,1123.1L830.6,1127.9Z"/>
<path class="ar" d="M866.9,1125.5L854.9,1127.9L854.9,1123.1Z"/>
<line class="e" x1="818.5" y1="1120.4" x2="818.5" y2="1159"/>
<line class="e" x1="866.5" y1="1120.4" x2="866.5" y2="1159"/>
<g transform="translate(842.75 1120.1)"><text class="t" x="-12.12" y="0" font-size="21.8" text-anchor="start">b</text><path d="M6.5,0 L8.85,0 L8.85,-15 L7.2,-15 L6.1,-13.6 L2.7,-11.3 L2.7,-9.3 L6.5,-11.6Z" fill="#000"/></g>
<line class="d" x1="749.5" y1="1135.8" x2="749.5" y2="1228.6"/>
<path class="ar" d="M749.5,1159L747.1,1147L751.9,1147Z"/>
<path class="ar" d="M749.5,1184.2L751.9,1196.2L747.1,1196.2Z"/>
<line class="d" x1="743.5" y1="1184.5" x2="865.1" y2="1184.5"/>
<text class="t" x="745.1" y="1206" font-size="21.8" text-anchor="middle" transform="rotate(-90 745.1 1206)">b2</text>
<path class="pm" d="M761.2,1237.5 V1232.2 Q761.2,1229.2 765.2,1229.2 H921.2 Q926.2,1229.2 926.2,1234.2 V1389.8 Q926.2,1394.8 921.2,1394.8 H765.2 Q761.2,1394.8 761.2,1391.8 V1386.5"/>
<line class="pt" x1="697.2" y1="1238.5" x2="919.6" y2="1238.5"/>
<line class="pt" x1="697.2" y1="1385.5" x2="919.6" y2="1385.5"/>
<line class="pm" x1="919.5" y1="1238" x2="919.5" y2="1385.6"/>
<line class="pm" x1="697.5" y1="1238" x2="697.5" y2="1385.6"/>
<line class="pm" x1="702.5" y1="1238" x2="702.5" y2="1385.6"/>
<line class="bo" x1="916.5" y1="1240.5" x2="916.5" y2="1383.1"/>
<line class="bo" x1="843.7" y1="1240.5" x2="916.6" y2="1240.5"/>
<line class="bo" x1="843.7" y1="1383.5" x2="916.6" y2="1383.5"/>
<rect class="pt" x="697.2" y="1261" width="5.2" height="13"/>
<rect class="pt" x="697.2" y="1351" width="5.2" height="13"/>
<line class="cl" x1="690" y1="1310.5" x2="1156" y2="1310.5"/>
<polygon class="pm" points="855,1264 849.35,1273.79 838.05,1273.79 832.4,1264 838.05,1254.21 849.35,1254.21"/>
<circle class="pm" cx="843.7" cy="1264" r="6.2"/>
<line class="pt" x1="829.7" y1="1264.5" x2="857.7" y2="1264.5"/>
<polygon class="pm" points="855,1357.4 849.35,1367.19 838.05,1367.19 832.4,1357.4 838.05,1347.61 849.35,1347.61"/>
<circle class="pm" cx="843.7" cy="1357.4" r="6.2"/>
<line class="pt" x1="829.7" y1="1357.5" x2="857.7" y2="1357.5"/>
<line class="cl" x1="843.5" y1="1153" x2="843.5" y2="1497"/>
<path class="pm" d="M770.6,1394.8 V1464.9 H818.8 V1404.8 Q818.8,1396.8 822.8,1394.8"/>
<polygon class="pm" points="816.8,1438.4 806.15,1456.85 784.85,1456.85 774.2,1438.4 784.85,1419.95 806.15,1419.95"/>
<circle class="pm" cx="795.5" cy="1438.4" r="17.3"/>
<circle class="pm" cx="795.5" cy="1438.4" r="8.6"/>
<line class="pt" x1="777.5" y1="1438.5" x2="813.5" y2="1438.5"/>
<line class="pt" x1="795.5" y1="1426.4" x2="795.5" y2="1459.4"/>
<path class="pm" d="M865.5,1394.8 Q869.5,1396.8 869.5,1404.8 V1464.9 H917.8 V1394.8"/>
<polygon class="pm" points="915.3,1438.4 904.65,1456.85 883.35,1456.85 872.7,1438.4 883.35,1419.95 904.65,1419.95"/>
<circle class="pm" cx="894" cy="1438.4" r="17.3"/>
<circle class="pm" cx="894" cy="1438.4" r="8.6"/>
<line class="pt" x1="876" y1="1438.5" x2="912" y2="1438.5"/>
<line class="pt" x1="894.5" y1="1426.4" x2="894.5" y2="1459.4"/>
<line class="d" x1="795.5" y1="1338.5" x2="894" y2="1338.5"/>
<path class="ar" d="M795.5,1338.5L807.5,1336.1L807.5,1340.9Z"/>
<path class="ar" d="M894,1338.5L882,1340.9L882,1336.1Z"/>
<line class="pt" x1="795.5" y1="1332.6" x2="795.5" y2="1426.4"/>
<line class="pt" x1="894.5" y1="1332.6" x2="894.5" y2="1426.4"/>
<text class="t" x="827.2" y="1332" font-size="21.8" text-anchor="middle">a</text>
<g transform="rotate(-45 843.7 1310.8)">
<line class="pm" x1="945.1" y1="1296.5" x2="1029.7" y2="1296.5"/>
<line class="pm" x1="946.37" y1="1324.5" x2="1029.7" y2="1324.5"/>
<rect class="pm" x="1029.7" y="1294" width="6" height="33.6" rx="2.8"/>
<path class="pm" d="M1035.7,1297.3 L1140.2,1290.1 Q1141.7,1289.6 1142.9,1291.3 Q1150.2,1304.5 1143.7,1329.3 Q1142.2,1332.3 1140.2,1331.5 L1035.7,1324.3"/>
<line class="cl" x1="863.7" y1="1310.5" x2="1151.7" y2="1310.5"/>
</g>
<g transform="rotate(0 843.7 1310.8)">
<line class="pm" x1="926.2" y1="1296.5" x2="1029.7" y2="1296.5"/>
<line class="pm" x1="926.2" y1="1324.5" x2="1029.7" y2="1324.5"/>
<rect class="pm" x="1029.7" y="1294" width="6" height="33.6" rx="2.8"/>
<path class="pm" d="M1035.7,1297.3 L1140.2,1290.1 Q1141.7,1289.6 1142.9,1291.3 Q1150.2,1304.5 1143.7,1329.3 Q1142.2,1332.3 1140.2,1331.5 L1035.7,1324.3"/>
<line class="cl" x1="863.7" y1="1310.5" x2="1151.7" y2="1310.5"/>
</g>
<g transform="rotate(45 843.7 1310.8)">
<line class="e" x1="946.37" y1="1296.5" x2="978.7" y2="1296.5"/>
<line class="pm" x1="978.7" y1="1296.5" x2="1029.7" y2="1296.5"/>
<line class="pm" x1="948.49" y1="1324.5" x2="1029.7" y2="1324.5"/>
<rect class="pm" x="1029.7" y="1294" width="6" height="33.6" rx="2.8"/>
<path class="pm" d="M1035.7,1297.3 L1140.2,1290.1 Q1141.7,1289.6 1142.9,1291.3 Q1150.2,1304.5 1143.7,1329.3 Q1142.2,1332.3 1140.2,1331.5 L1035.7,1324.3"/>
<line class="cl" x1="863.7" y1="1310.5" x2="1151.7" y2="1310.5"/>
</g>
<path class="d" d="M946.94,1207.56 A146,146 0 0 1 946.94,1414.04" fill="none"/>
<path class="ar" d="M946.94,1207.56L957.12,1214.35L953.73,1217.74Z"/>
<path class="ar" d="M946.94,1414.04L953.73,1403.86L957.12,1407.25Z"/>
<text class="t" x="967.5" y="1278" font-size="21" text-anchor="middle" transform="rotate(75 967.5 1278)">90°</text>
<path class="d" d="M1061.31,1104.29 A300,300 0 0 1 1127.01,1212.14" fill="none"/>
<line class="d" x1="843.7" y1="1310.8" x2="1155.26" y2="1174.68"/>
<path class="ar" d="M1118.61,1190.7L1128.64,1183.69L1130.57,1188.09Z"/>
<text class="t" x="1146" y="1175.5" font-size="21.8" text-anchor="middle" transform="rotate(-23.6 1146 1175.5)">R</text>
<line class="pt" x1="697.5" y1="1385.6" x2="697.5" y2="1605.3"/>
<line class="d" x1="697.2" y1="1491.5" x2="844.4" y2="1491.5"/>
<path class="ar" d="M697.2,1491.5L709.2,1489.1L709.2,1493.9Z"/>
<path class="ar" d="M844.4,1491.5L832.4,1493.9L832.4,1489.1Z"/>
<text class="t" x="770.2" y="1487.5" font-size="21.8" text-anchor="middle">h</text>
<line class="d" x1="697.2" y1="1566.5" x2="926.2" y2="1566.5"/>
<path class="ar" d="M697.2,1566.5L709.2,1564.1L709.2,1568.9Z"/>
<path class="ar" d="M926.2,1566.5L914.2,1568.9L914.2,1564.1Z"/>
<line class="e" x1="926.5" y1="1394.8" x2="926.5" y2="1571.5"/>
<text class="t" x="814.3" y="1562.1" font-size="21.8" text-anchor="middle">H</text>
<line class="d" x1="697.2" y1="1600.5" x2="1147.5" y2="1600.5"/>
<path class="ar" d="M697.2,1600.5L709.2,1598.1L709.2,1602.9Z"/>
<path class="ar" d="M1147.5,1600.5L1135.5,1602.9L1135.5,1598.1Z"/>
<line class="e" x1="1147.5" y1="1326" x2="1147.5" y2="1605.3"/>
<g transform="translate(896.1 1596.4)"><text class="t" x="-13.93" y="0" font-size="21.8" text-anchor="start">H</text><path d="M8.31,0 L10.66,0 L10.66,-15 L9.01,-15 L7.91,-13.6 L4.51,-11.3 L4.51,-9.3 L8.31,-11.6Z" fill="#000"/></g>
</svg></body></html>
